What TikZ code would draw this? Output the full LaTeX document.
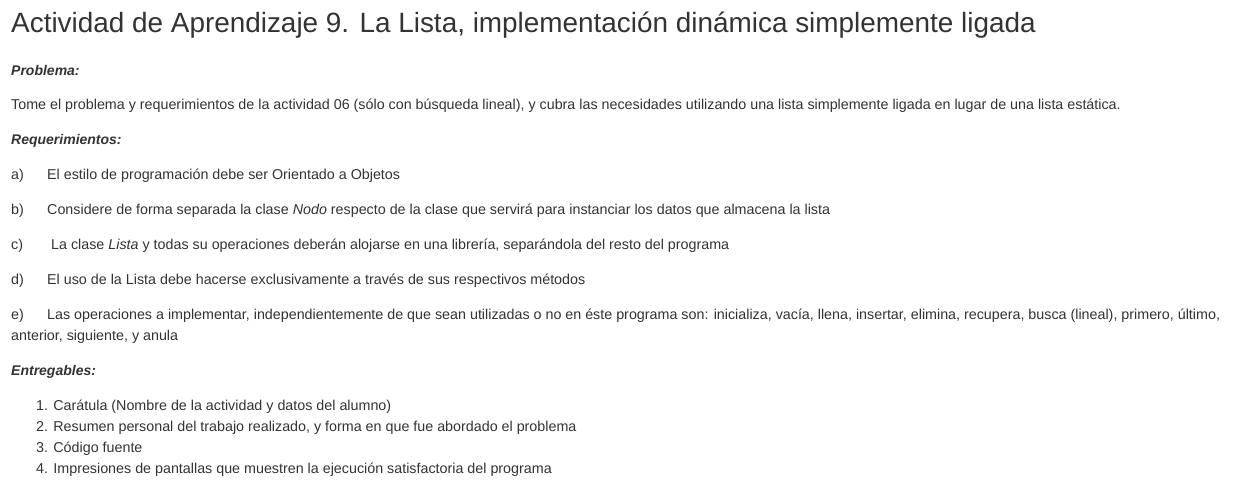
\documentclass[tikz,border=0pt]{standalone}
\usepackage{fontspec}
\setmainfont{Liberation Sans}
\definecolor{txt}{HTML}{333333}
\begin{document}
\begin{tikzpicture}[x=1pt,y=-1pt,
  every node/.style={anchor=base west,inner sep=0pt,text=txt},
  title/.style={font=\fontsize{27.9}{34}\selectfont},
  body/.style={font=\fontsize{14.3}{17}\selectfont},
  head/.style={font=\fontsize{14}{17}\selectfont\bfseries\itshape}]
\useasboundingbox[fill=white] (0,0) rectangle (1235,493);
\node[title] (t) at (11,32) {Actividad de Aprendizaje 9. La Lista, implementación dinámica simplemente ligada};
\node[head] (h1) at (11,75) {Problema:};
\node[body] (p1) at (11,109) {Tome el problema y requerimientos de la actividad 06 (sólo con búsqueda lineal), y cubra las necesidades utilizando una lista simplemente ligada en lugar de una lista estática.};
\node[head] (h2) at (11,144) {Requerimientos:};
\node[body] (la) at (11,179) {a)};
\node[body] (ta) at (47,179) {El estilo de programación debe ser Orientado a Objetos};
\node[body] (lb) at (11,214) {b)};
\node[body] (tb) at (47,214) {Considere de forma separada la clase \textit{Nodo} respecto de la clase que servirá para instanciar los datos que almacena la lista};
\node[body] (lc) at (11,249) {c)};
\node[body] (tc) at (51,249) {La clase \textit{Lista} y todas su operaciones deberán alojarse en una librería, separándola del resto del programa};
\node[body] (ld) at (11,284) {d)};
\node[body] (td) at (47,284) {El uso de la Lista debe hacerse exclusivamente a través de sus respectivos métodos};
\node[body] (le) at (11,319) {e)};
\node[body] (te) at (47,319) {Las operaciones a implementar, independientemente de que sean utilizadas o no en éste programa son: inicializa, vacía, llena, insertar, elimina, recupera, busca (lineal), primero, último,};
\node[body] (te2) at (11,340) {anterior, siguiente, y anula};
\node[head] (h3) at (11,375) {Entregables:};
\node[body] (n1) at (36,410) {1. Carátula (Nombre de la actividad y datos del alumno)};
\node[body] (n2) at (36,431) {2. Resumen personal del trabajo realizado, y forma en que fue abordado el problema};
\node[body] (n3) at (36,452) {3. Código fuente};
\node[body] (n4) at (36,473) {4. Impresiones de pantallas que muestren la ejecución satisfactoria del programa};
\end{tikzpicture}
\end{document}
